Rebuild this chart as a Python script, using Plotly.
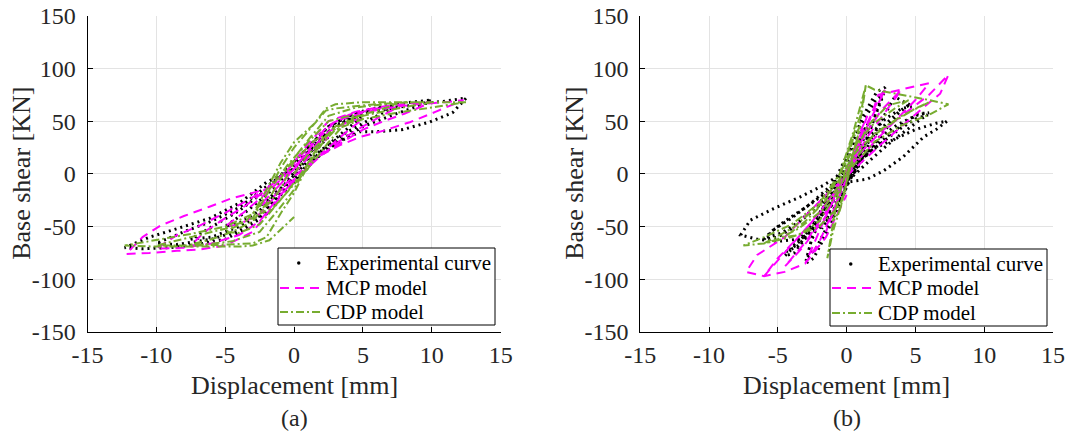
import plotly.graph_objects as go

# ---------------- data ----------------
# (a) experimental curve
exp_a_x = [0, 1.2, 2.5, 1.8, 0.5, -0.8, -2.5, -1.8, -0.5,
           1.0, 2.5, 3.8, 5.0, 4.0, 2.5, 1.0, -0.5, -2.0, -3.5, -5.0, -4.0, -2.5, -1.0,
           0.5, 2.0, 3.5, 5.0, 6.5, 7.5, 6.0, 4.0, 2.5, 1.0, -0.5, -2.0, -4.0, -6.0, -7.5, -6.0, -4.0, -2.5, -1.0,
           0.5, 2.0, 3.5, 5.0, 7.0, 8.5, 10.0, 8.5, 6.5, 4.5, 2.5, 1.0, -0.5, -2.0, -4.0, -6.0, -8.0, -10.0, -8.5, -6.0, -4.0, -2.5, -1.0,
           0.5, 1.5, 2.6, 3.5, 4.8, 6.0, 7.9, 9.8, 11.5, 12.5, 11.0, 9.0, 7.0, 5.0, 3.0, 1.5, 0.0, -2.0, -4.0, -6.1, -8.5, -10.5, -12.3, -11.0, -9.0, -7.0, -5.0, -3.5, -2.0, -0.5]
exp_a_y = [0, 18, 35, 30, 10, -12, -30, -26, -8,
           12, 28, 42, 55, 52, 40, 20, 0, -20, -36, -50, -47, -35, -15,
           2, 22, 37, 48, 58, 65, 62, 55, 45, 25, 5, -15, -35, -50, -62, -60, -50, -40, -18,
           0, 20, 33, 45, 55, 62, 70, 68, 64, 58, 45, 25, 2, -12, -32, -45, -55, -66, -67, -62, -54, -42, -20,
           -2, 14, 24, 32, 40, 40, 42, 49, 58, 72, 69, 66, 62, 57, 46, 28, 5, -8, -28, -42, -52, -60, -70, -71, -70, -67, -62, -52, -38, -12]

# (a) MCP model
mcp_a_x = [0, 1.0, 2.5, 1.8, 0.5, -1.0, -2.5, -1.8, -0.5,
           1.0, 2.5, 4.0, 5.0, 4.0, 2.5, 1.0, -0.5, -2.0, -3.5, -5.0, -4.0, -2.5, -1.0,
           0.5, 2.0, 3.5, 5.0, 6.5, 7.5, 6.0, 4.0, 2.5, 1.0, -0.5, -2.0, -3.5, -5.0, -6.5, -7.5, -6.0, -4.0, -2.5, -1.0,
           0.5, 2.0, 3.5, 5.0, 6.5, 8.0, 10.0, 8.5, 6.5, 4.5, 2.5, 1.0, -0.5, -2.0, -3.5, -5.0, -7.0, -8.5, -10.0, -8.0, -6.0, -4.0, -2.5, -1.0,
           0.5, 2.0, 3.3, 4.8, 6.5, 8.4, 10.3, 12.3, 11.0, 9.0, 7.0, 5.0, 3.0, 1.5, 0.0, -1.0, -2.7, -4.5, -6.1, -8.0, -9.7, -11.0, -12.2, -10.5, -8.5, -7.0, -5.0, -3.0, -1.5, 0.0]
mcp_a_y = [0, 15, 35, 30, 12, -10, -30, -26, -8,
           8, 25, 42, 52, 50, 40, 20, 0, -18, -35, -50, -48, -38, -16,
           0, 18, 33, 45, 56, 63, 62, 56, 46, 25, 3, -15, -30, -42, -55, -68, -66, -58, -45, -20,
           0, 18, 30, 42, 50, 57, 68, 67, 64, 59, 50, 28, 3, -14, -26, -37, -50, -58, -71, -70, -66, -58, -45, -20,
           0, 18, 27, 35, 41, 49, 59, 70, 68, 66, 63, 58, 50, 30, 5, -10, -17, -23, -31, -40, -49, -60, -76, -75, -73, -72, -68, -55, -30, -5]

# (a) CDP model
cdp_a_x = [0, 1.0, 2.5, 1.5, 0.0, -1.0, -2.5, -1.5, 0.0,
           1.0, 2.5, 3.5, 5.0, 4.0, 2.5, 1.0, -0.5, -1.5, -2.5, -3.5, -5.0, -4.0, -2.5, -1.0,
           0.5, 1.5, 2.5, 4.0, 6.0, 7.5, 6.5, 4.5, 2.5, 1.2, 0.0, -1.0, -2.0, -3.0, -4.5, -6.0, -7.5, -6.5, -4.5, -2.5, -1.2,
           0.0, 1.0, 2.0, 3.0, 5.0, 7.5, 10.0, 9.0, 7.0, 5.0, 3.0, 2.3, 1.0, 0.0, -1.0, -2.0, -3.0, -5.0, -7.5, -10.0, -9.0, -7.0, -5.0, -3.0, -2.0, -1.0,
           0.0, 1.0, 2.0, 3.0, 5.0, 7.5, 10.0, 12.5, 11.0, 8.0, 5.0, 3.0, 2.3, 1.5, 0.0, -1.0, -2.0, -3.0, -5.0, -7.5, -10.0, -12.3, -10.0, -7.0, -4.0, -3.0, -1.8, 0.0]
cdp_a_y = [0, 18, 38, 32, 12, -15, -38, -32, -10,
           5, 30, 45, 55, 55, 50, 30, 8, -10, -30, -45, -55, -56, -48, -25,
           0, 20, 38, 52, 60, 66, 66, 63, 55, 35, 15, -5, -28, -45, -55, -62, -67, -67, -64, -55, -35,
           -15, 10, 32, 45, 55, 62, 68, 68, 67, 65, 62, 60, 40, 25, 5, -20, -42, -52, -60, -68, -68, -68, -67, -66, -60, -38,
           -18, 8, 28, 42, 52, 58, 63, 68, 68, 68, 68, 66, 62, 48, 30, 10, -15, -38, -50, -57, -63, -68, -69, -69, -69, -68, -63, -41]

# (b) experimental curve (repeated cycles at each amplitude)
exp_b_x = [0, 0.8, 1.5, 1.0, 0.0, -0.8, -1.5, -1.0, 0.0,
           0.6, 1.3, 1.7, 1.2, 0.2, -0.7, -1.4, -1.8, -1.2, -0.2,
           0.8, 1.5, 2.2, 2.8, 2.2, 1.2, 0.3, -0.8, -1.8, -2.5, -3.0, -2.4, -1.4, -0.4,
           0.6, 1.4, 2.0, 2.7, 2.1, 1.0, 0.0, -1.0, -1.9, -2.6, -2.9, -2.2, -1.2, -0.2,
           0.5, 1.5, 2.5, 3.5, 4.8, 4.0, 2.8, 1.8, 0.8, -0.3, -1.5, -2.5, -3.5, -4.5, -3.8, -2.8, -1.8, -0.6,
           0.4, 1.6, 2.8, 3.8, 4.6, 3.9, 2.9, 1.7, 0.6, -0.5, -1.7, -2.8, -3.7, -4.4, -3.5, -2.4, -1.3, -0.3,
           0.5, 1.5, 2.5, 3.5, 4.5, 5.2, 6.0, 5.2, 4.2, 3.0, 2.0, 1.0, 0.0, -1.5, -3.0, -4.5, -5.5, -6.0, -5.0, -4.0, -3.0, -2.0, -1.0,
           0.3, 1.8, 3.2, 4.4, 5.4, 5.9, 5.0, 3.8, 2.6, 1.4, 0.2, -1.2, -2.6, -4.0, -5.2, -5.8, -4.7, -3.5, -2.3, -1.1,
           0.0, 1.5, 2.7, 4.1, 5.6, 6.5, 7.3, 6.5, 5.0, 3.5, 2.0, 1.0, 0.0, -1.7, -3.4, -5.3, -7.0, -7.7, -6.5, -5.0, -3.5, -2.0, -1.0, 0.0]
exp_b_y = [0, 25, 45, 38, 10, -20, -45, -40, -12,
           15, 35, 50, 40, 8, -18, -38, -52, -42, -10,
           10, 35, 60, 82, 78, 55, 25, -5, -35, -60, -85, -80, -55, -25,
           5, 30, 52, 76, 70, 45, 15, -15, -42, -65, -80, -70, -45, -15,
           0, 25, 50, 73, 64, 62, 52, 38, 18, -5, -28, -50, -65, -78, -75, -58, -40, -15,
           -2, 22, 42, 58, 66, 60, 48, 32, 12, -10, -32, -52, -66, -74, -68, -50, -30, -8,
           2, 20, 35, 45, 52, 56, 58, 57, 48, 36, 25, 12, -2, -18, -32, -45, -55, -62, -60, -52, -40, -28, -12,
           -4, 14, 30, 42, 52, 56, 52, 42, 30, 18, 5, -12, -28, -42, -52, -60, -56, -46, -34, -18,
           -8, -5, 3, 16, 35, 42, 50, 48, 42, 33, 24, 15, 3, -11, -22, -33, -44, -58, -62, -64, -62, -52, -35, -15]

# (b) MCP model
mcp_b_x = [0, 1.0, 1.5, 0.8, 0, -0.8, -1.5, -0.8, 0,
           1.2, 2.3, 2.8, 1.5, 0.3, -0.8, -2.0, -3.0, -2.0, -0.5,
           1.0, 2.5, 4.0, 3.0, 1.5, 0.2, -1.2, -3.0, -4.5, -3.2, -1.5, -0.2,
           1.0, 2.3, 4.0, 6.0, 5.0, 3.5, 2.0, 0.5, -1.0, -2.5, -4.5, -6.0, -5.0, -3.5, -2.0, -0.5,
           1.0, 2.5, 4.5, 6.0, 7.4, 6.8, 5.5, 4.0, 2.5, 1.0, 0.0, -1.5, -3.0, -4.5, -6.5, -7.3, -6.0, -4.5, -3.0, -1.5, 0.0]
mcp_b_y = [0, 40, 55, 30, 0, -30, -55, -30, 0,
           40, 70, 80, 45, 5, -30, -65, -85, -55, -10,
           30, 60, 80, 62, 35, 5, -30, -65, -88, -70, -40, -5,
           25, 75, 80, 86, 70, 50, 30, 8, -20, -45, -75, -97, -80, -60, -38, -10,
           20, 40, 60, 75, 94, 76, 62, 45, 28, 10, -2, -20, -40, -60, -77, -93, -97, -93, -85, -60, -20]

# (b) CDP model
cdp_b_x = [0, 0.6, 1.0, 0.5, 0, -0.6, -1.0, -0.5, 0,
           0.5, 1.0, 1.4, 1.0, 0.3, -0.4, -0.9, -1.4, -1.0, -0.3,
           0.3, 1.5, 3.0, 4.5, 3.5, 2.0, 0.8, -0.3, -1.5, -3.0, -4.5, -3.5, -2.0, -0.8,
           0.5, 2.0, 4.0, 6.0, 5.0, 3.5, 1.8, 0.5, -0.5, -2.0, -4.0, -6.0, -5.0, -3.5, -1.8, -0.5,
           0.5, 2.0, 4.0, 6.0, 7.4, 6.0, 4.0, 2.0, 1.4, 0.5, -0.5, -2.0, -4.0, -6.0, -7.5, -6.0, -4.0, -2.0, -0.5, 0.0]
cdp_b_y = [0, 25, 45, 35, 10, -25, -45, -35, -10,
           20, 50, 84, 55, 30, 0, -40, -80, -55, -25,
           10, 45, 65, 70, 62, 48, 30, 5, -25, -45, -60, -58, -45, -20,
           12, 38, 55, 68, 62, 50, 35, 18, -5, -30, -52, -66, -62, -52, -35, -10,
           8, 30, 46, 56, 66, 70, 75, 80, 84, 40, 0, -28, -48, -60, -68, -66, -60, -50, -30, -10]

series_names = ["Experimental curve", "MCP model", "CDP model"]
x_ticks = [-15, -10, -5, 0, 5, 10, 15]
x_ticktext = ["-15", "-10", "-5", "0", "5", "10", "15"]
y_ticks = [-150, -100, -50, 0, 50, 100, 150]
y_ticktext = ["-150", "-100", "-50", "0", "50", "100", "150"]
x_title = "Displacement [mm]"
y_title = "Base shear [KN]"
panel_labels = ["(a)", "(b)"]

# ---------------- styling ----------------
FONT = "Liberation Serif"
TXT = "#262626"
MAGENTA = "#ff00ff"
GREEN = "#77ac30"
MCP_DASH = "9px,6px"
CDP_DASH = "8px,3px,2px,3px"
EXP_DASH = "2px,4px"

W, H = 1070, 438
OFF = 0  # body margin is removed by the post script below


def px(x):
    return (x - OFF) / W


def py(y):
    return 1 - (y - OFF) / H


y_dom = [py(332), py(15.7)]
x_dom1 = [px(87.5), px(500.7)]
x_dom2 = [px(640.2), px(1053)]

fig = go.Figure()

panels = [
    ("x", "y", exp_a_x, exp_a_y, mcp_a_x, mcp_a_y, cdp_a_x, cdp_a_y),
    ("x2", "y2", exp_b_x, exp_b_y, mcp_b_x, mcp_b_y, cdp_b_x, cdp_b_y),
]

for xa, ya, ex, ey, mx, my, cx, cy in panels:
    fig.add_trace(go.Scatter(x=ex, y=ey, mode="lines", xaxis=xa, yaxis=ya,
                             line=dict(color="black", width=3, dash=EXP_DASH),
                             name=series_names[0], showlegend=False, hoverinfo="skip"))
    fig.add_trace(go.Scatter(x=mx, y=my, mode="lines", xaxis=xa, yaxis=ya,
                             line=dict(color=MAGENTA, width=2, dash=MCP_DASH),
                             name=series_names[1], showlegend=False))
    fig.add_trace(go.Scatter(x=cx, y=cy, mode="lines", xaxis=xa, yaxis=ya,
                             line=dict(color=GREEN, width=2, dash=CDP_DASH),
                             name=series_names[2], showlegend=False))

axis_common = dict(
    showgrid=True, gridcolor="#e3e3e3", gridwidth=1,
    showline=True, linecolor="black", linewidth=1,
    ticks="inside", ticklen=5, tickcolor="black",
    zeroline=False, mirror=False, automargin=False,
    ticklabeloverflow="allow",
    tickfont=dict(family=FONT, size=24, color=TXT),
)

fig.update_layout(
    width=W, height=H,
    margin=dict(l=0, r=0, t=0, b=0),
    paper_bgcolor="white", plot_bgcolor="white",
    showlegend=False,
    xaxis=dict(domain=x_dom1, range=[-15, 15], tickvals=x_ticks, ticktext=x_ticktext, anchor="y",
               ticklabelstandoff=1, **axis_common),
    yaxis=dict(domain=y_dom, range=[-150, 150], tickvals=y_ticks, ticktext=y_ticktext, anchor="x",
               ticklabelstandoff=6, **axis_common),
    xaxis2=dict(domain=x_dom2, range=[-15, 15], tickvals=x_ticks, ticktext=x_ticktext, anchor="y2",
                ticklabelstandoff=1, **axis_common),
    yaxis2=dict(domain=y_dom, range=[-150, 150], tickvals=y_ticks, ticktext=y_ticktext, anchor="x2",
                ticklabelstandoff=6, **axis_common),
)

# ----- legends drawn as box, samples and labels -----
shapes = []
annotations = []
for left, top, bottom, rows in [(278, 248, 325, [263, 288, 312]),
                                (830, 249, 326, [264, 288, 313])]:
    right = left + 217
    shapes.append(dict(type="rect", xref="paper", yref="paper",
                       x0=px(left), x1=px(right), y0=py(bottom), y1=py(top),
                       line=dict(color="black", width=1), fillcolor="white", layer="above"))
    shapes.append(dict(type="circle", xref="paper", yref="paper",
                       x0=px(left + 19), x1=px(left + 22.5), y0=py(rows[0] + 1.75), y1=py(rows[0] - 1.75),
                       line=dict(color="black", width=0), fillcolor="black", layer="above"))
    shapes.append(dict(type="line", xref="paper", yref="paper",
                       x0=px(left + 2), x1=px(left + 44), y0=py(rows[1]), y1=py(rows[1]),
                       line=dict(color=MAGENTA, width=2, dash=MCP_DASH), layer="above"))
    shapes.append(dict(type="line", xref="paper", yref="paper",
                       x0=px(left + 2), x1=px(left + 44), y0=py(rows[2]), y1=py(rows[2]),
                       line=dict(color=GREEN, width=2, dash=CDP_DASH), layer="above"))
    for r, name in zip(rows, series_names):
        annotations.append(dict(text=name, x=px(left + 46), y=py(r), xref="paper", yref="paper",
                                xanchor="left", yanchor="middle", showarrow=False,
                                font=dict(family=FONT, size=21, color="black")))

ann_font = dict(family=FONT, size=26, color=TXT)
for (x0, x1), ycx in [(x_dom1, 22), (x_dom2, 575)]:
    annotations.append(dict(text=x_title, x=(x0 + x1) / 2, y=py(385), xref="paper", yref="paper",
                            xanchor="center", yanchor="middle", showarrow=False, font=ann_font))
    annotations.append(dict(text=y_title, x=px(ycx), y=(y_dom[0] + y_dom[1]) / 2, xref="paper", yref="paper",
                            xanchor="center", yanchor="middle", showarrow=False, textangle=-90, font=ann_font))
for (x0, x1), lab in zip([x_dom1, x_dom2], panel_labels):
    annotations.append(dict(text=lab, x=(x0 + x1) / 2, y=py(418), xref="paper", yref="paper",
                            xanchor="center", yanchor="middle", showarrow=False,
                            font=dict(family=FONT, size=24, color=TXT)))

fig.update_layout(shapes=shapes, annotations=annotations)

fig.write_html("out.html",
               config={"displayModeBar": False},
               post_script="document.body.style.margin='0px'; document.body.style.overflow='hidden';")
